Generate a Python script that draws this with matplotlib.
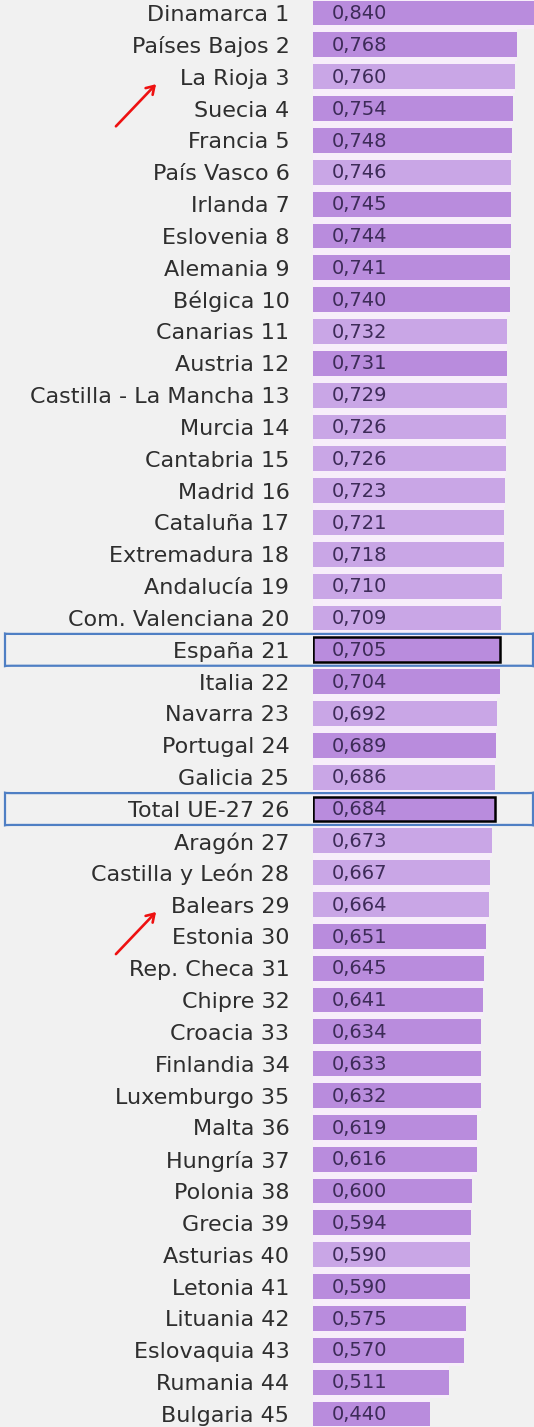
"""
Ranking bar chart (45 rows): EU countries + Spanish regions, highlighted España / Total UE-27
"""

import matplotlib.pyplot as plt
from matplotlib.patches import FancyBboxPatch
from matplotlib.transforms import blended_transform_factory

# Data
names = ["Dinamarca", "Países Bajos", "La Rioja", "Suecia", "Francia",
         "País Vasco", "Irlanda", "Eslovenia", "Alemania", "Bélgica",
         "Canarias", "Austria", "Castilla - La Mancha", "Murcia", "Cantabria",
         "Madrid", "Cataluña", "Extremadura", "Andalucía", "Com. Valenciana",
         "España", "Italia", "Navarra", "Portugal", "Galicia",
         "Total UE-27", "Aragón", "Castilla y León", "Balears", "Estonia",
         "Rep. Checa", "Chipre", "Croacia", "Finlandia", "Luxemburgo",
         "Malta", "Hungría", "Polonia", "Grecia", "Asturias",
         "Letonia", "Lituania", "Eslovaquia", "Rumania", "Bulgaria"]
values = [0.840, 0.768, 0.760, 0.754, 0.748,
          0.746, 0.745, 0.744, 0.741, 0.740,
          0.732, 0.731, 0.729, 0.726, 0.726,
          0.723, 0.721, 0.718, 0.710, 0.709,
          0.705, 0.704, 0.692, 0.689, 0.686,
          0.684, 0.673, 0.667, 0.664, 0.651,
          0.645, 0.641, 0.634, 0.633, 0.632,
          0.619, 0.616, 0.600, 0.594, 0.590,
          0.590, 0.575, 0.570, 0.511, 0.440]
# Spanish regions are drawn in the lighter purple
regions = ["La Rioja", "País Vasco", "Canarias", "Castilla - La Mancha", "Murcia",
           "Cantabria", "Madrid", "Cataluña", "Extremadura", "Andalucía",
           "Com. Valenciana", "Navarra", "Galicia", "Aragón", "Castilla y León",
           "Balears", "Asturias"]
highlighted = ["España", "Total UE-27"]
arrowed = ["La Rioja", "Balears"]

BG = '#f1f1f1'
DARK = '#b98cdd'
LIGHT = '#c9a6e6'
STRIPE = '#f7eefa'

plt.rcParams['font.family'] = ['DejaVu Sans']

fig = plt.figure(figsize=(5.34, 14.27), dpi=100, facecolor=BG)
ax = fig.add_axes([313 / 534, 0, 221 / 534, 1])
ax.set_facecolor(BG)

n = len(names)
pos = list(range(n))
colors = [LIGHT if nm in regions else DARK for nm in names]

# pale row band behind each bar
ax.barh(pos, values, height=1.0, color=STRIPE, zorder=1)
bars = ax.barh(pos, values, height=0.78, color=colors, zorder=2)

for b, nm in zip(bars, names):
    if nm in highlighted:
        b.set_edgecolor('black')
        b.set_linewidth(1.8)

for p, v in zip(pos, values):
    ax.annotate(f"{v:.3f}".replace('.', ','), xy=(0, p), xytext=(13.5, -0.5),
                textcoords='offset points', va='center', ha='left',
                fontsize=14, color='#3d2b58', zorder=3)

ax.set_xlim(0, 221 / 265.6)
ax.set_ylim(n - 1 + 0.41, -0.41)
ax.set_yticks(pos)
ax.set_yticklabels([f"{nm} {i + 1}" for i, nm in enumerate(names)],
                   fontsize=16, color='#2e2e2e')
ax.tick_params(axis='y', length=0, pad=17)
ax.set_xticks([])
for s in ax.spines.values():
    s.set_visible(False)

# blue rounded frames around the highlighted rows
tr = blended_transform_factory(fig.transFigure, ax.transData)
for nm in highlighted:
    i = names.index(nm)
    box = FancyBboxPatch((5 / 534, i - 0.5), 528 / 534, 1.0,
                         boxstyle="round,pad=0,rounding_size=0.012",
                         mutation_aspect=-1.0,
                         transform=tr, facecolor='none', edgecolor='#4f7fc4',
                         linewidth=1.6, clip_on=False, zorder=5)
    fig.add_artist(box)

# red hand-drawn arrows pointing at two regions
for nm in arrowed:
    i = names.index(nm)
    ax.annotate('', xy=(158 / 534, i + 0.17), xycoords=tr,
                xytext=(114 / 534, i + 1.62), textcoords=tr,
                arrowprops=dict(arrowstyle='->,head_length=0.55,head_width=0.35',
                                color='#ee1111', lw=1.9),
                annotation_clip=False)

plt.savefig('out.png', dpi=100, facecolor=BG)
